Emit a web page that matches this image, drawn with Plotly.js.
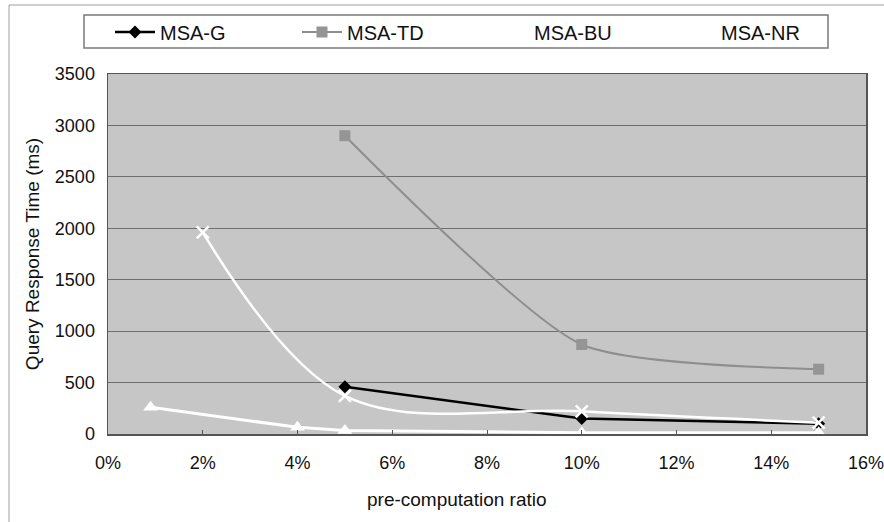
<!DOCTYPE html>
<html>
<head>
<meta charset="utf-8">
<script src="https://cdn.plot.ly/plotly-3.0.1.min.js"></script>
<style>html,body{margin:0;padding:0;background:#fff;}#chart{width:884px;height:522px;}</style>
</head>
<body>
<div id="chart"></div>
<script>
// Data (x in percent, y in ms)
const gX = [5, 10, 15];
const gY = [460, 150, 100];
const tdX = [5, 10, 15];
const tdY = [2900, 870, 630];
const buX = [2, 5, 10, 15];
const buY = [1960, 370, 220, 110];
const nrX = [0.9, 4, 5, 10, 15];
const nrY = [260, 65, 35, 12, 12];
const xTicks = [0, 2, 4, 6, 8, 10, 12, 14, 16];
const xTickLabels = ['0%', '2%', '4%', '6%', '8%', '10%', '12%', '14%', '16%'];
const yTicks = [0, 500, 1000, 1500, 2000, 2500, 3000, 3500];
const xTitle = 'pre-computation ratio';
const yTitle = 'Query Response Time (ms)';

const FONT = 'Liberation Sans, Arial, sans-serif';

const traces = [
  {x: gX, y: gY, name: 'MSA-G', mode: 'lines+markers',
   line: {color: '#000000', width: 2.5},
   marker: {symbol: 'diamond', size: 10, color: '#000000'}},
  {x: tdX, y: tdY, name: 'MSA-TD', mode: 'lines+markers',
   line: {color: '#8e8e8e', width: 2, shape: 'spline', smoothing: 0.6},
   marker: {symbol: 'square', size: 11, color: '#959595'}},
  {x: buX, y: buY, name: 'MSA-BU', mode: 'lines+markers',
   line: {color: '#ffffff', width: 2.5, shape: 'spline', smoothing: 1},
   marker: {symbol: 'x-thin-open', size: 12, color: '#ffffff', line: {color: '#ffffff', width: 2.5}}},
  {x: nrX, y: nrY, name: 'MSA-NR', mode: 'lines+markers',
   line: {color: '#ffffff', width: 3},
   marker: {symbol: 'triangle-up', size: 13, color: '#ffffff'}}
];

const plotL = 108, plotR = 866, plotT = 74, plotB = 434;
const pw = plotR - plotL, ph = plotB - plotT;
const px = v => (v - plotL) / pw;
const py = v => (plotB - v) / ph;

const layout = {
  width: 884, height: 522,
  margin: {l: plotL, r: 884 - plotR, t: plotT, b: 522 - plotB, pad: 0},
  paper_bgcolor: '#ffffff',
  plot_bgcolor: '#c6c6c6',
  font: {family: FONT, size: 18, color: '#111111'},
  showlegend: true,
  legend: {
    orientation: 'h', x: px(110), y: py(32), xanchor: 'left', yanchor: 'middle',
    bgcolor: 'rgba(0,0,0,0)', borderwidth: 0,
    font: {family: FONT, size: 20, color: '#111111'},
    entrywidth: 132, entrywidthmode: 'pixels', itemwidth: 40
  },
  xaxis: {
    range: [0, 16], tickvals: xTicks, ticktext: xTickLabels,
    showgrid: false, zeroline: false,
    showline: true, linecolor: '#555555', linewidth: 1.5, mirror: true,
    ticks: 'inside', ticklen: 4, tickcolor: '#555555',
    ticklabelstandoff: 12, ticklabeloverflow: 'allow',
    tickfont: {family: FONT, size: 18, color: '#111111'},
    fixedrange: true
  },
  yaxis: {
    range: [0, 3500], tickvals: yTicks,
    showgrid: true, gridcolor: '#6e6e6e', gridwidth: 1, zeroline: false,
    showline: true, linecolor: '#555555', linewidth: 1.5, mirror: true,
    ticks: '', ticklabelstandoff: 8,
    tickfont: {family: FONT, size: 18, color: '#111111'},
    title: {text: yTitle, font: {family: FONT, size: 19, color: '#111111'}, standoff: 10},
    fixedrange: true
  },
  annotations: [
    {text: xTitle, xref: 'paper', yref: 'paper', x: px(457), y: py(499),
     xanchor: 'center', yanchor: 'middle', showarrow: false,
     font: {family: FONT, size: 19, color: '#111111'}}
  ],
  shapes: [
    {type: 'rect', xref: 'paper', yref: 'paper', x0: px(9), x1: px(900), y0: py(540), y1: py(5),
     line: {color: '#a0a0a0', width: 1}, fillcolor: 'rgba(0,0,0,0)', layer: 'below'},
    {type: 'rect', xref: 'paper', yref: 'paper', x0: px(84), x1: px(828), y0: py(48), y1: py(15),
     line: {color: '#7a7a7a', width: 1.5}, fillcolor: '#ffffff', layer: 'below'}
  ]
};

Plotly.newPlot('chart', traces, layout, {displayModeBar: false, staticPlot: true});
</script>
</body>
</html>
